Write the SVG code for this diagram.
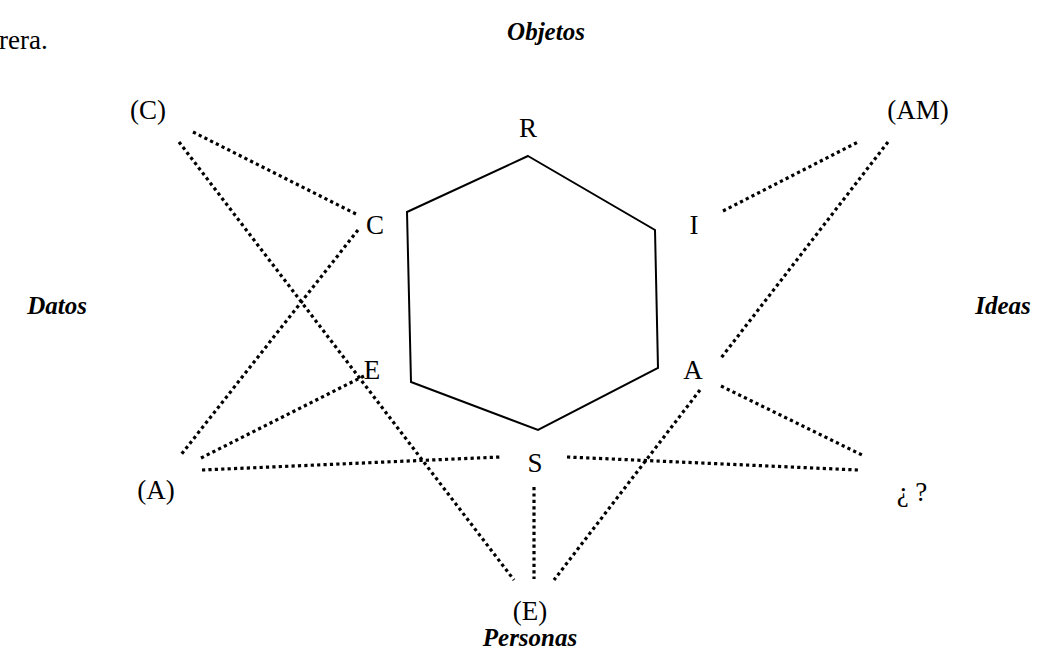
<svg xmlns="http://www.w3.org/2000/svg" width="1047" height="657" viewBox="0 0 1047 657">
<style>
text{font-family:"Liberation Serif","Times New Roman",serif;font-size:27px;fill:#000}
.t{text-anchor:middle}
.h{font-weight:bold;font-style:italic;text-anchor:middle;font-size:25px}
.d{stroke:#000;stroke-width:3.2;stroke-dasharray:3.2 3.2;fill:none}
</style>
<rect width="1047" height="657" fill="#fff"/>
<text x="-1" y="49">rera.</text>
<g id="titles">
<text class="h" x="546" y="40">Objetos</text>
<text class="h" x="57" y="314">Datos</text>
<text class="h" x="1003" y="314">Ideas</text>
<text class="h" x="530" y="646">Personas</text>
</g>
<g id="hexagon"><polygon points="528,156 655,230 658,368 538,430 411,382 407,212" fill="none" stroke="#000" stroke-width="2"/></g>
<g id="node-R"><text class="t" x="528" y="137">R</text></g>
<g id="node-C"><text class="t" x="375" y="234">C</text></g>
<g id="node-I"><text class="t" x="694" y="234">I</text></g>
<g id="node-E"><text class="t" x="372" y="379">E</text></g>
<g id="node-A"><text class="t" x="693" y="379">A</text></g>
<g id="node-S"><text class="t" x="535" y="472">S</text></g>
<g id="node-oC"><text class="t" x="148" y="119">(C)</text></g>
<g id="node-oAM"><text class="t" x="918" y="119">(AM)</text></g>
<g id="node-oA"><text class="t" x="156" y="499">(A)</text></g>
<g id="node-q"><text class="t" x="912" y="501">¿ ?</text></g>
<g id="node-oE"><text class="t" x="530" y="620">(E)</text></g>
<g id="connectors">
<line class="d" x1="193" y1="132" x2="358" y2="215"/>
<line class="d" x1="179" y1="142" x2="514" y2="580"/>
<line class="d" x1="358" y1="230" x2="180" y2="456"/>
<line class="d" x1="201" y1="458" x2="366" y2="375"/>
<line class="d" x1="202" y1="470" x2="500" y2="457"/>
<line class="d" x1="534" y1="487" x2="534" y2="579"/>
<line class="d" x1="723" y1="211" x2="858" y2="142"/>
<line class="d" x1="888" y1="142" x2="721" y2="358"/>
<line class="d" x1="700" y1="390" x2="554" y2="580"/>
<line class="d" x1="721" y1="386" x2="862" y2="455"/>
<line class="d" x1="567" y1="457" x2="858" y2="470"/>
</g>
</svg>
